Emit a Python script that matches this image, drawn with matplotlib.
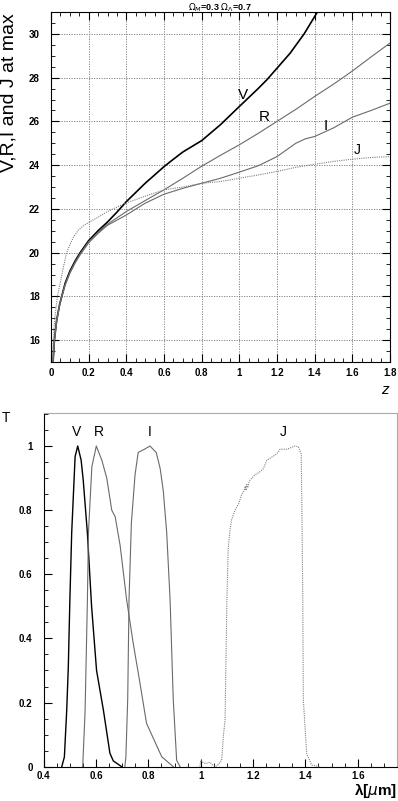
import matplotlib
matplotlib.use("Agg")
import matplotlib.pyplot as plt
from matplotlib.ticker import MultipleLocator

plt.rcParams["font.family"] = ["Liberation Sans", "DejaVu Sans"]

# magnitude at maximum vs redshift
z_v = [0.011, 0.018, 0.03, 0.045, 0.057, 0.075, 0.1, 0.13, 0.155, 0.2, 0.25, 0.3, 0.35, 0.4,
       0.5, 0.6, 0.65, 0.7, 0.8, 0.9, 1.0, 1.1, 1.146, 1.2, 1.27, 1.344, 1.411]
mag_v = [15.0, 16.0, 16.9, 17.6, 18.0, 18.6, 19.15, 19.65, 20.0, 20.55, 21.0, 21.4, 21.85, 22.33,
         23.17, 23.93, 24.27, 24.6, 25.12, 25.85, 26.68, 27.5, 27.9, 28.43, 29.12, 30.0, 30.95]

z_r = [0.011, 0.018, 0.03, 0.045, 0.057, 0.075, 0.1, 0.13, 0.155, 0.2, 0.25, 0.3, 0.4, 0.5,
       0.6, 0.7, 0.8, 0.9, 1.0, 1.1, 1.2, 1.3, 1.4, 1.5, 1.6, 1.7, 1.8]
mag_r = [15.0, 16.0, 16.9, 17.6, 18.0, 18.55, 19.1, 19.6, 19.95, 20.5, 20.92, 21.3, 21.88, 22.38,
         22.87, 23.4, 23.95, 24.45, 24.93, 25.45, 26.0, 26.55, 27.14, 27.7, 28.3, 28.95, 29.58]

z_i = [0.011, 0.018, 0.03, 0.045, 0.057, 0.075, 0.1, 0.13, 0.155, 0.2, 0.25, 0.3, 0.4, 0.5,
       0.6, 0.7, 0.8, 0.9, 1.0, 1.1, 1.2, 1.3, 1.35, 1.4, 1.5, 1.6, 1.7, 1.8]
mag_i = [15.0, 16.0, 16.85, 17.55, 17.95, 18.5, 19.05, 19.55, 19.9, 20.45, 20.88, 21.25, 21.72,
         22.26, 22.67, 22.94, 23.17, 23.4, 23.68, 23.97, 24.39, 25.0, 25.2, 25.31, 25.7, 26.19,
         26.5, 26.83]

z_j = [0.006, 0.012, 0.02, 0.034, 0.05, 0.065, 0.083, 0.1, 0.12, 0.145, 0.17, 0.2, 0.25, 0.3,
       0.35, 0.4, 0.5, 0.6, 0.7, 0.8, 0.9, 1.0, 1.1, 1.2, 1.3, 1.4, 1.5, 1.6, 1.7, 1.8]
mag_j = [15.0, 16.0, 17.0, 18.0, 18.65, 19.3, 20.0, 20.35, 20.72, 21.02, 21.22, 21.38, 21.62,
         21.88, 22.08, 22.27, 22.58, 22.87, 23.0, 23.17, 23.25, 23.4, 23.55, 23.71, 23.9, 24.04,
         24.17, 24.27, 24.35, 24.39]

# filter transmission curves
wl_v = [0.469, 0.479, 0.488, 0.494, 0.50, 0.507, 0.52, 0.53, 0.543, 0.551, 0.567, 0.583,
        0.602, 0.628, 0.653, 0.666, 0.698]
t_v = [0.0, 0.03, 0.177, 0.31, 0.52, 0.73, 0.967, 1.0, 0.956, 0.894, 0.728, 0.5,
       0.30, 0.177, 0.042, 0.018, 0.0]

wl_r = [0.549, 0.558, 0.567, 0.571, 0.584, 0.601, 0.622, 0.641, 0.66, 0.673, 0.692, 0.717,
        0.742, 0.768, 0.793, 0.851, 0.895]
t_r = [0.0, 0.17, 0.52, 0.73, 0.935, 1.0, 0.956, 0.90, 0.80, 0.78, 0.69, 0.52,
       0.385, 0.26, 0.135, 0.031, 0.0]

wl_i = [0.71, 0.714, 0.721, 0.726, 0.735, 0.749, 0.761, 0.785, 0.806, 0.83, 0.845, 0.857,
        0.87, 0.883, 0.895, 0.908, 0.921]
t_i = [0.0, 0.03, 0.21, 0.52, 0.76, 0.91, 0.98, 0.99, 1.0, 0.98, 0.93, 0.86,
       0.73, 0.52, 0.21, 0.02, 0.0]

wl_j = [0.997, 1.0, 1.01, 1.02, 1.035, 1.045, 1.055, 1.067, 1.08, 1.087, 1.093, 1.10, 1.105,
        1.112, 1.118, 1.131, 1.145, 1.157, 1.166, 1.17, 1.173, 1.176, 1.18, 1.185, 1.19, 1.207,
        1.227, 1.24, 1.252, 1.271, 1.29, 1.303, 1.329, 1.36, 1.373, 1.384, 1.386, 1.39, 1.392,
        1.405, 1.424, 1.456]
t_j = [0.0, 0.02, 0.012, 0.01, 0.014, 0.006, 0.0, 0.007, 0.02, 0.1, 0.146, 0.52, 0.68,
       0.74, 0.77, 0.80, 0.82, 0.85, 0.86, 0.875, 0.862, 0.88, 0.87, 0.89, 0.895, 0.91,
       0.92, 0.93, 0.955, 0.965, 0.975, 0.99, 0.99, 1.0, 0.998, 0.975, 0.85, 0.52, 0.21,
       0.04, 0.005, 0.0]

fig = plt.figure(figsize=(3.98, 8.01), dpi=100)
W, H = 398.0, 801.0

# ---- top panel ----
ax1 = fig.add_axes([51 / W, 1 - 362 / H, (390 - 51) / W, (362 - 12) / H])
ax1.plot(z_v, mag_v, color="black", lw=1.2)
ax1.plot(z_r, mag_r, color="#6a6a6a", lw=0.8)
ax1.plot(z_i, mag_i, color="#6a6a6a", lw=0.8)
ax1.plot(z_j, mag_j, color="#808080", lw=0.8, ls=(0, (1, 1)))
ax1.set_xlim(0, 1.8)
ax1.set_ylim(15, 31)
ax1.xaxis.set_major_locator(MultipleLocator(0.2))
ax1.xaxis.set_minor_locator(MultipleLocator(0.05))
ax1.yaxis.set_major_locator(MultipleLocator(2))
ax1.yaxis.set_minor_locator(MultipleLocator(0.5))
ax1.grid(True, which="major", color="#777777", ls=(0, (1.5, 1.5)), lw=0.6)
ax1.tick_params(which="both", direction="in", top=True, right=True, labelsize=7)
ax1.tick_params(which="major", length=6, pad=4)
ax1.tick_params(which="minor", length=3)
ax1.tick_params(axis="y", pad=8)
ax1.xaxis.set_major_formatter(plt.FuncFormatter(lambda v, p: f"{v:g}"))
for lab in ax1.get_xticklabels() + ax1.get_yticklabels():
    lab.set_fontweight("bold")

ax1.text(1.02, 27.2, "V", fontsize=11, ha="center", va="center")
ax1.text(1.13, 26.2, "R", fontsize=11, ha="center", va="center")
ax1.text(1.46, 25.8, "I", fontsize=11, ha="center", va="center")
ax1.text(1.625, 24.7, "J", fontsize=10, ha="center", va="center")

fig.text(220 / W, 1 - 1 / H, r"$\Omega_{M}$=0.3 $\Omega_{\Lambda}$=0.7",
         fontsize=6.5, fontweight="bold", ha="center", va="top")
fig.text(9 / W, 1 - 13 / H, "V,R,I and J at max", rotation=90, fontsize=14,
         ha="center", va="top")
fig.text(385 / W, 1 - 390 / H, "z", fontsize=11, style="italic", ha="center", va="center")

# ---- bottom panel ----
ax2 = fig.add_axes([43.7 / W, 1 - 766.7 / H, (397 - 43.7) / W, (766.7 - 413) / H])
ax2.plot(wl_v, t_v, color="black", lw=1.0)
ax2.plot(wl_r, t_r, color="#6a6a6a", lw=0.8)
ax2.plot(wl_i, t_i, color="#6a6a6a", lw=0.8)
ax2.plot(wl_j, t_j, color="#808080", lw=0.8, ls=(0, (1, 1)))
ax2.set_xlim(0.4, 1.75)
ax2.set_ylim(0, 1.103)
ax2.xaxis.set_major_locator(MultipleLocator(0.2))
ax2.xaxis.set_minor_locator(MultipleLocator(0.05))
ax2.yaxis.set_major_locator(MultipleLocator(0.2))
ax2.yaxis.set_minor_locator(MultipleLocator(0.05))
ax2.tick_params(which="both", direction="in", labelsize=7)
ax2.tick_params(which="major", length=6, pad=3)
ax2.tick_params(which="minor", length=3)
ax2.tick_params(axis="y", pad=8)
for side in ("top", "right"):
    ax2.spines[side].set_color("#aaaaaa")
ax2.xaxis.set_major_formatter(plt.FuncFormatter(lambda v, p: f"{v:g}"))
ax2.yaxis.set_major_formatter(plt.FuncFormatter(lambda v, p: f"{v:g}"))
for lab in ax2.get_xticklabels() + ax2.get_yticklabels():
    lab.set_fontweight("bold")

for name, x in (("V", 0.527), ("R", 0.611), ("I", 0.806), ("J", 1.314)):
    ax2.text(x, 1.045, name, fontsize=10, ha="center", va="center")

fig.text(6 / W, 1 - 418 / H, "T", fontsize=10, ha="center", va="center")
fig.text(397 / W, 1 - 791 / H, r"λ[$\mu$m]", fontsize=11, fontweight="bold",
         ha="right", va="center")

fig.savefig("out.png", dpi=100)
